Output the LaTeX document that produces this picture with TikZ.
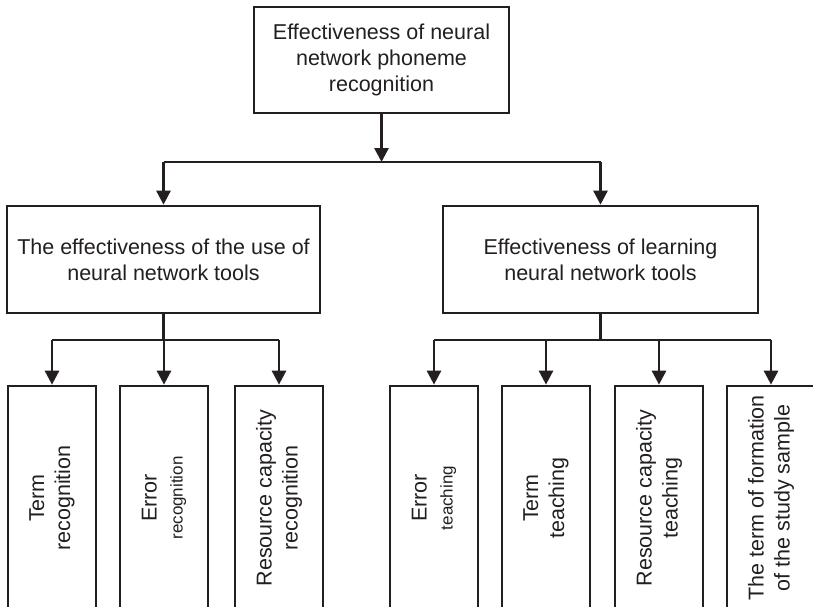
\documentclass[tikz,border=0pt]{standalone}
\usepackage{fontspec}
\setmainfont{Liberation Sans}
\usetikzlibrary{arrows.meta}
\definecolor{ink}{HTML}{231F20}
\newcommand{\bigtxt}{\fontsize{21.5}{26}\selectfont}
\newcommand{\smalltxt}{\fontsize{17}{20}\selectfont}
\tikzset{
  line/.style={draw=ink, line width=2.7pt},
  arr/.style={line, -{Triangle[length=14pt,width=14pt]}},
  topbox/.style={line, rectangle, text=ink, align=center, inner sep=0pt, font=\bigtxt},
  leafbox/.style={line, rectangle, text=ink, align=center, inner sep=0pt, font=\bigtxt,
    rotate=90, minimum width=224pt, minimum height=88pt},
}
\begin{document}
\begin{tikzpicture}[x=1pt,y=-1pt]
\useasboundingbox (0,0) rectangle (813,607);
\clip (0,0) rectangle (813,607);

% level 0 and level 1 boxes
\node[topbox, minimum width=255pt, minimum height=106pt] (root) at (381.5,60)
  {Effectiveness of neural\\network phoneme\\recognition};
\node[topbox, minimum width=313pt, minimum height=107pt] (use) at (163.5,259.5)
  {The effectiveness of the use of\\neural network tools};
\node[topbox, minimum width=315pt, minimum height=107pt] (learn) at (600.5,259.5)
  {Effectiveness of learning\\neural network tools};

% leaf boxes (rotated, so .east is the top edge)
\node[leafbox] (t1) at (52,498)  {Term\\recognition};
\node[leafbox] (t2) at (164,498) {Error\\{\smalltxt recognition}};
\node[leafbox] (t3) at (279,498) {Resource capacity\\recognition};
\node[leafbox] (s1) at (434,498) {Error\\{\smalltxt teaching}};
\node[leafbox] (s2) at (546,498) {Term\\teaching};
\node[leafbox] (s3) at (659,498) {Resource capacity\\teaching};
\node[leafbox] (s4) at (771,498) {The term of formation\\of the study sample};

% bus lines
\coordinate (bus0) at (0,162);
\coordinate (bus1) at (0,340);

\draw[arr] (root.south) -- (root.south |- bus0);
\draw[line] (use.north |- bus0) -- (learn.north |- bus0);
\draw[arr] (use.north |- bus0) -- (use.north);
\draw[arr] (learn.north |- bus0) -- (learn.north);

\draw[line] (use.south) -- (use.south |- bus1);
\draw[line] (t1.east |- bus1) -- (t3.east |- bus1);
\foreach \n in {t1,t2,t3}
  \draw[arr] (\n.east |- bus1) -- (\n.east);

\draw[line] (learn.south) -- (learn.south |- bus1);
\draw[line] (s1.east |- bus1) -- (s4.east |- bus1);
\foreach \n in {s1,s2,s3,s4}
  \draw[arr] (\n.east |- bus1) -- (\n.east);
\end{tikzpicture}
\end{document}
